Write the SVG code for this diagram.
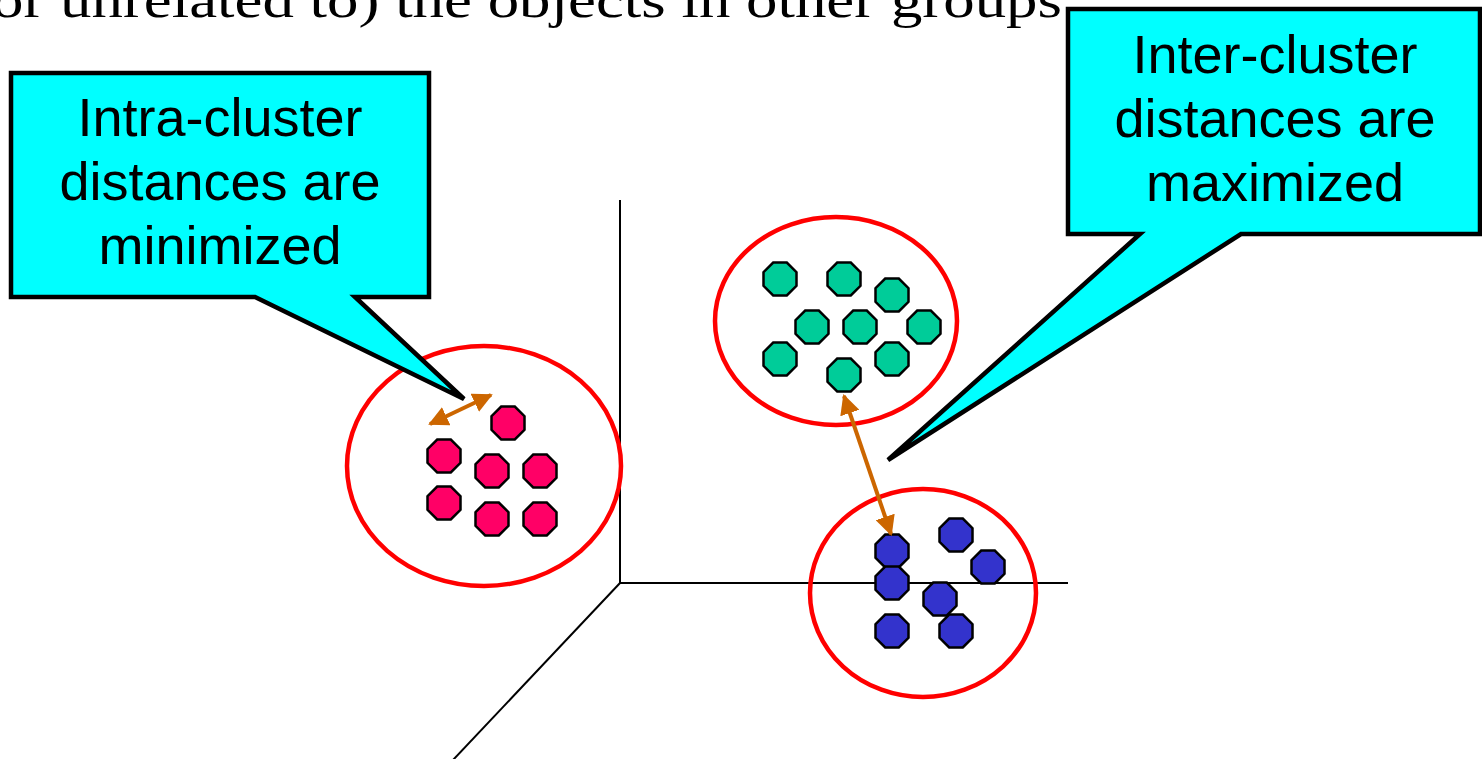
<svg xmlns="http://www.w3.org/2000/svg" width="1482" height="759" viewBox="0 0 1482 759">
<defs>
<style>
.axis{stroke:#000;stroke-width:2;fill:none}
.ring{fill:none;stroke:#FF0000;stroke-width:4.5}
.callout{fill:#00FFFF;stroke:#000;stroke-width:4.5;stroke-linejoin:miter}
.lbl{font-family:"Liberation Sans",Arial,sans-serif;font-size:54px;fill:#000;text-anchor:middle}
.pink{fill:#FF0066;stroke:#000;stroke-width:2.5}
.green{fill:#00CC99;stroke:#000;stroke-width:2.5}
.blue{fill:#3333CC;stroke:#000;stroke-width:2.5}
.dist{stroke:#CC6600;stroke-width:4;fill:none}
</style>
<polygon id="oct" points="-6.8,-16.5 6.8,-16.5 16.5,-6.8 16.5,6.8 6.8,16.5 -6.8,16.5 -16.5,6.8 -16.5,-6.8"/>
<marker id="ah" viewBox="0 0 10 10" refX="9" refY="5" markerWidth="5" markerHeight="5" orient="auto-start-reverse">
<path d="M0,0 L10,5 L0,10 Z" fill="#CC6600"/>
</marker>
</defs>
<rect width="1482" height="759" fill="#fff"/>
<text x="-8" y="17" font-family="'Liberation Serif','Times New Roman',serif" font-size="50" textLength="1070" lengthAdjust="spacingAndGlyphs">or unrelated to) the objects in other groups</text>
<g id="axes">
<line class="axis" x1="620" y1="200" x2="620" y2="583"/>
<line class="axis" x1="619" y1="583" x2="1068" y2="583"/>
<line class="axis" x1="620" y1="583" x2="453" y2="760"/>
</g>
<g id="cluster-pink">
<ellipse class="ring" cx="484" cy="466" rx="137" ry="120"/>
<use href="#oct" class="pink" x="508" y="423"/>
<use href="#oct" class="pink" x="444" y="456"/>
<use href="#oct" class="pink" x="492" y="471"/>
<use href="#oct" class="pink" x="540" y="471"/>
<use href="#oct" class="pink" x="444" y="503"/>
<use href="#oct" class="pink" x="492" y="519"/>
<use href="#oct" class="pink" x="540" y="519"/>
</g>
<g id="cluster-green">
<ellipse class="ring" cx="836" cy="321" rx="121" ry="104"/>
<use href="#oct" class="green" x="780" y="279"/>
<use href="#oct" class="green" x="844" y="279"/>
<use href="#oct" class="green" x="892" y="295"/>
<use href="#oct" class="green" x="812" y="327"/>
<use href="#oct" class="green" x="860" y="327"/>
<use href="#oct" class="green" x="924" y="327"/>
<use href="#oct" class="green" x="780" y="359"/>
<use href="#oct" class="green" x="892" y="359"/>
<use href="#oct" class="green" x="844" y="375"/>
</g>
<g id="cluster-blue">
<ellipse class="ring" cx="923" cy="593" rx="113" ry="104"/>
<use href="#oct" class="blue" x="956" y="535"/>
<use href="#oct" class="blue" x="988" y="567"/>
<use href="#oct" class="blue" x="892" y="551"/>
<use href="#oct" class="blue" x="892" y="583"/>
<use href="#oct" class="blue" x="940" y="599"/>
<use href="#oct" class="blue" x="892" y="631"/>
<use href="#oct" class="blue" x="956" y="631"/>
</g>
<g id="connectors">
<line class="dist" x1="430" y1="424" x2="491" y2="395" marker-start="url(#ah)" marker-end="url(#ah)"/>
<line class="dist" x1="844" y1="396" x2="891" y2="534" marker-start="url(#ah)" marker-end="url(#ah)"/>
</g>
<g id="callout-intra">
<path class="callout" d="M11,73 H429 V297 H355 L464,399 L255,297 H11 Z"/>
<text class="lbl" x="220" y="136">Intra-cluster</text>
<text class="lbl" x="220" y="200">distances are</text>
<text class="lbl" x="220" y="264">minimized</text>
</g>
<g id="callout-inter">
<path class="callout" d="M1068,9 H1480 V234 H1241 L888,460 L1140,234 H1068 Z"/>
<text class="lbl" x="1275" y="73">Inter-cluster</text>
<text class="lbl" x="1275" y="137">distances are</text>
<text class="lbl" x="1275" y="201">maximized</text>
</g>
</svg>
